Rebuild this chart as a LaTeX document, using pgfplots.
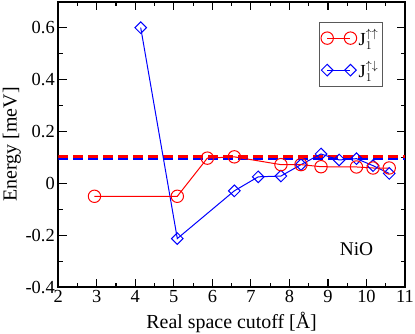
\documentclass[border=0pt]{standalone}
\usepackage{fontspec}
\setmainfont{Liberation Serif}
\usepackage{pgfplots}
\pgfplotsset{compat=1.18}
\definecolor{jred}{RGB}{255,0,0}
\definecolor{jblue}{RGB}{0,0,255}

\begin{document}
\begin{tikzpicture}[font=\fontsize{18.5}{21}\selectfont]
\begin{axis}[
  scale only axis, width=347bp, height=285.6bp,
  xmin=2, xmax=11, ymin=-0.4, ymax=0.7,
  xtick={2,...,11}, minor x tick num=1,
  ytick={-0.4,-0.2,0,0.2,0.4,0.6}, minor y tick num=1,
  tick align=inside, major tick length=8.5bp, minor tick length=4.5bp,
  axis line style={line width=1.8bp},
  tick style={line width=1.2bp, black},
  /pgf/number format/assume math mode=true,
  yticklabel style={/pgf/number format/fixed,/pgf/number format/precision=1},
  xlabel={Real space cutoff [Å]},
  ylabel={Energy [meV]},
  label style={font=\fontsize{20}{22}\selectfont},
  xlabel style={at={(axis description cs:0.5,-0.1436)}, anchor=base},
  ylabel style={at={(axis description cs:-0.12,0.5)}, anchor=base},
  reverse legend,
  legend image code/.code={\draw[#1] plot coordinates {(0bp,0bp) (23.3bp,0bp)};},
  legend style={at={(0.9357,0.93)}, anchor=north east, draw=black!65,
    line width=0.9bp, font=\fontsize{18.5}{21}\selectfont, row sep=10bp,
    inner xsep=2bp, inner ysep=5bp},
  legend cell align=left,
]
\addplot[jblue, line width=1.8bp, dash pattern=on 10bp off 5bp, forget plot]
  coordinates {(2,0.094) (11,0.094)};
\addplot[jred, line width=2.6bp, dash pattern=on 10bp off 5bp, forget plot]
  coordinates {(2,0.104) (11,0.104)};
\addplot[jblue, line width=1bp, mark=square, mark size=4.1bp,
  mark options={fill=white, rotate=45, solid, line width=1bp}]
  coordinates {(4.14,0.600) (5.09,-0.213) (6.57,-0.029) (7.19,0.025)
    (7.78,0.028) (8.30,0.072) (8.82,0.113) (9.29,0.090) (9.74,0.095)
    (10.17,0.068) (10.59,0.038)};
\addlegendentry{J$_1^{\uparrow\downarrow}$}
\addplot[jred, line width=1bp, mark=o, mark size=6.2bp,
  mark options={fill=white, solid, line width=1bp}]
  coordinates {(2.94,-0.050) (5.09,-0.050) (5.87,0.097) (6.57,0.102)
    (7.78,0.072) (8.30,0.072) (8.82,0.064) (9.74,0.063) (10.17,0.059)
    (10.59,0.059)};
\addlegendentry{J$_1^{\uparrow\uparrow}$}
\node[anchor=base, font=\fontsize{19.5}{22}\selectfont] at (axis cs:9.74,-0.278) {NiO};
\end{axis}
\pgfresetboundingbox
\path[use as bounding box] ([shift={(-58.3bp,-46.7bp)}]current axis.south west)
  rectangle ([shift={(10bp,1.7bp)}]current axis.north east);
\end{tikzpicture}
\end{document}
